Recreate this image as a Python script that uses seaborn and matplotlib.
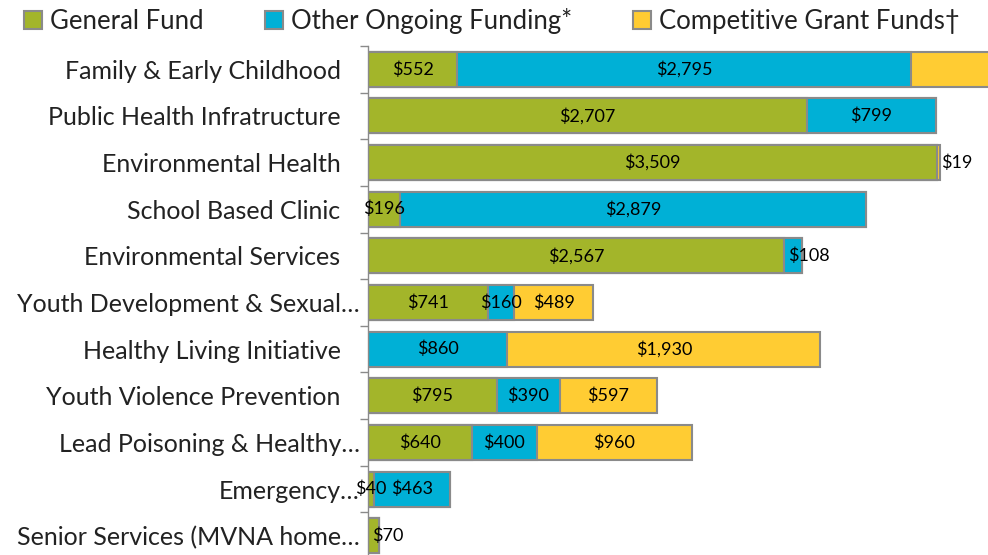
import matplotlib
matplotlib.use("Agg")
import matplotlib.pyplot as plt
import seaborn as sns
import pandas as pd
from matplotlib.patches import Patch

# Program budget by funding source (thousands of dollars)
categories = [
    "Family & Early Childhood",
    "Public Health Infratructure",
    "Environmental Health",
    "School Based Clinic",
    "Environmental Services",
    "Youth Development & Sexual…",
    "Healthy Living Initiative",
    "Youth Violence Prevention",
    "Lead Poisoning & Healthy…",
    "Emergency…",
    "Senior Services (MVNA home…",
]
general_fund = [552, 2707, 3509, 196, 2567, 741, 0, 795, 640, 40, 70]
other_ongoing = [2795, 799, 0, 2879, 108, 160, 860, 390, 400, 463, 0]
competitive_grants = [1300, 0, 19, 0, 0, 489, 1930, 597, 960, 0, 0]

series_names = ["General Fund", "Other Ongoing Funding*", "Competitive Grant Funds†"]
colors = ["#A3B52A", "#00B0D6", "#FFCC33"]
edge_color = "#8A8A8A"
text_color = "#222222"

sns.set_theme(style="white")
plt.rcParams["font.family"] = ["Lato", "DejaVu Sans"]

df = pd.DataFrame({
    "category": categories,
    series_names[0]: general_fund,
    series_names[1]: other_ongoing,
    series_names[2]: competitive_grants,
})
cum = df[series_names].cumsum(axis=1)
starts = cum - df[series_names]

fig = plt.figure(figsize=(9.88, 5.55), dpi=100)
ax = fig.add_axes([368 / 988, -4 / 555, 620 / 988, 513 / 555])

# stacked bars: draw cumulative totals from the outermost layer inward
for name, color in reversed(list(zip(series_names, colors))):
    sns.barplot(x=cum[name], y=df["category"], orient="h", color=color,
                saturation=1, edgecolor=edge_color, linewidth=1.5,
                width=0.75, ax=ax)

x_max = 3825
ax.set_xlim(0, x_max)
ax.set_ylim(len(categories) - 0.5, -0.5)

label_size = 13
# value labels
for i in range(len(categories)):
    vals = [df[n][i] for n in series_names]
    last = max(j for j, v in enumerate(vals) if v > 0)
    for j, name in enumerate(series_names):
        v = vals[j]
        if v <= 0:
            continue
        s = f"${v:,.0f}"
        left = starts[name][i]
        if j == last and v < 0.05 * x_max:
            ax.annotate(s, (left, i), xytext=(3, 0), textcoords="offset points",
                        ha="left", va="center", fontsize=label_size, color="black",
                        annotation_clip=False)
        elif left + v / 2 < x_max:
            ax.text(left + v / 2, i, s, ha="center", va="center",
                    fontsize=label_size, color="black", clip_on=False)

# axes styling
for side in ["top", "right", "bottom"]:
    ax.spines[side].set_visible(False)
ax.spines["left"].set_color("#8A8A8A")
ax.spines["left"].set_linewidth(1.0)
ax.set_xticks([])
ax.set_xlabel("")
ax.set_ylabel("")

ax.set_yticks(range(len(categories)))
ax.set_yticklabels([c if c.endswith("…") else c + "   " for c in categories],
                   fontsize=18, color=text_color)
ax.set_yticks([k - 0.5 for k in range(len(categories) + 1)], minor=True)
ax.tick_params(axis="y", which="major", length=0, pad=6)
ax.tick_params(axis="y", which="minor", length=5.5, width=1.0,
               color="#8A8A8A", direction="out", left=True)

handles = [Patch(facecolor=c, edgecolor=edge_color, linewidth=1.5, label=n)
           for n, c in zip(series_names, colors)]
fig.legend(handles=handles, loc="center left", bbox_to_anchor=(24 / 988, 1 - 21 / 555),
           ncol=3, frameon=False, handlelength=0.7, handleheight=0.7,
           handletextpad=0.3, columnspacing=2.4, borderaxespad=0, borderpad=0,
           labelcolor=text_color, prop={"size": 18.5})

fig.savefig("out.png", dpi=100)
